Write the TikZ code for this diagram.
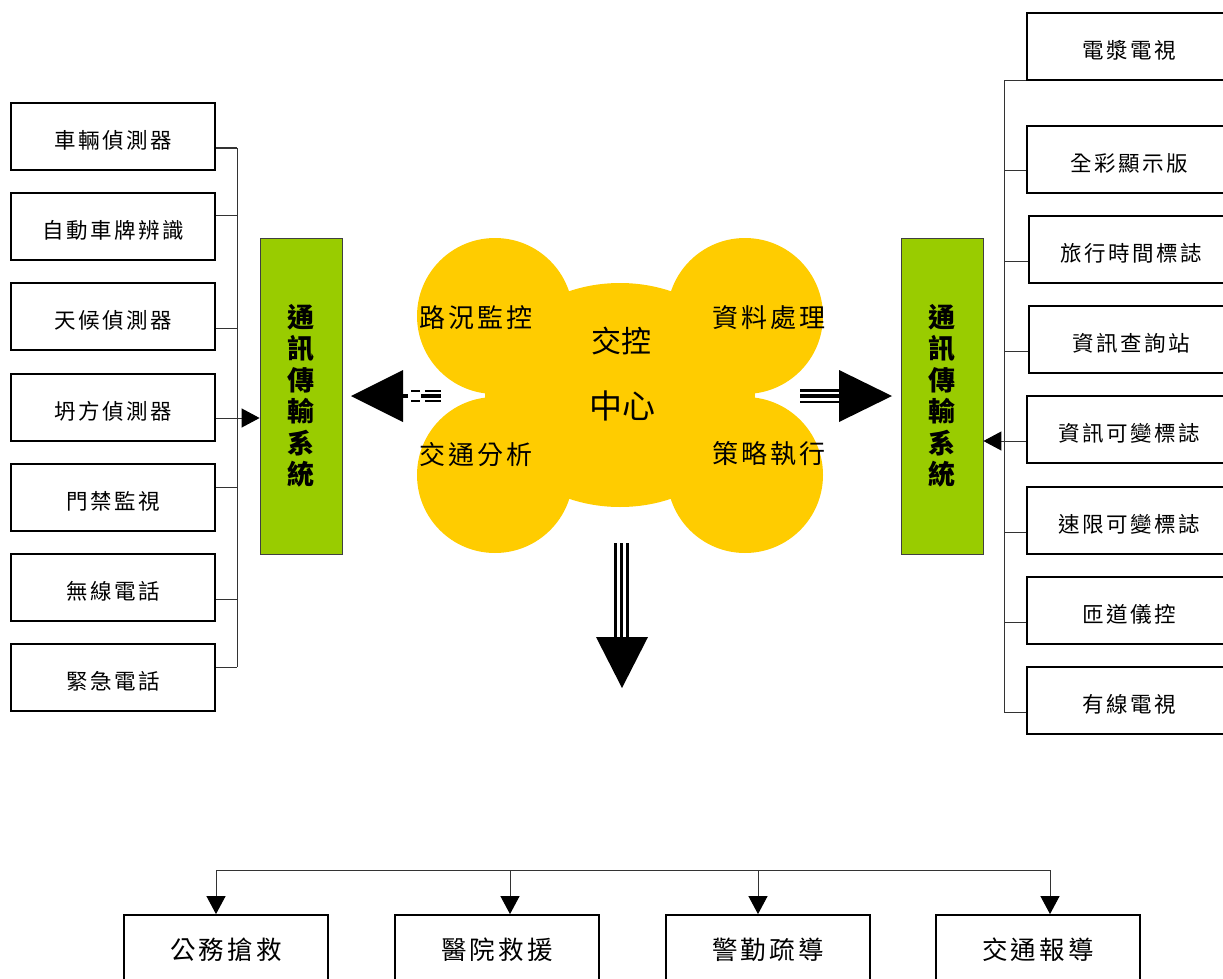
\documentclass[tikz,border=0pt]{standalone}
\usepackage{fontspec}
\usetikzlibrary{arrows.meta,calc}
\newfontfamily\cjk{Noto Sans CJK TC}
\newfontfamily\cjksp[LetterSpace=12]{Noto Sans CJK TC}
\definecolor{grn}{HTML}{99CC00}
\definecolor{amber}{HTML}{FFCC00}
\begin{document}
\begin{tikzpicture}[x=1pt,y=-1pt,
  itembox/.style={draw=black,line width=1.8pt,minimum width=204pt,minimum height=67pt,inner sep=0pt,
    text height=24.4pt,text depth=0pt,
    font=\cjksp\fontsize{21.5}{24}\selectfont},
  bigbox/.style={itembox,text height=22.4pt,font=\cjksp\fontsize{25.5}{28}\selectfont},
  commbox/.style={draw=black!75,line width=0.8pt,fill=grn,minimum width=82pt,minimum height=316pt,inner sep=0pt,
    align=center,font=\cjk\bfseries\fontsize{27}{31.5}\selectfont},
  tree/.style={draw=black!80,line width=1pt},
  petal/.style={font=\cjksp\fontsize{26}{28}\selectfont},
  tip/.style={-{Triangle[length=18pt,width=19pt,color=black]}}
]
\useasboundingbox (0,0) rectangle (1223,979);

% ---- left items
\node[itembox] (L1) at (113,136.5) {車輛偵測器};
\node[itembox] (L2) at (113,226.5) {自動車牌辨識};
\node[itembox] (L3) at (113,316.5) {天候偵測器};
\node[itembox] (L4) at (113,407.5) {坍方偵測器};
\node[itembox] (L5) at (113,497.5) {門禁監視};
\node[itembox] (L6) at (113,587.5) {無線電話};
\node[itembox] (L7) at (113,677.5) {緊急電話};

% ---- communication boxes
\node[commbox] (G1) at (301,396) {通\\訊\\傳\\輸\\系\\統};
\node[commbox] (G2) at (942,396) {通\\訊\\傳\\輸\\系\\統};

% ---- right items
\node[itembox] (R1) at (1129,46.5) {電漿電視};
\node[itembox] (R2) at (1129,159.5) {全彩顯示版};
\node[itembox] (R3) at (1131,249.5) {旅行時間標誌};
\node[itembox] (R4) at (1131,339.5) {資訊查詢站};
\node[itembox] (R5) at (1129,429.5) {資訊可變標誌};
\node[itembox] (R6) at (1129,520.5) {速限可變標誌};
\node[itembox] (R7) at (1129,610.5) {匝道儀控};
\node[itembox] (R8) at (1129,700.5) {有線電視};

% ---- bottom items
\node[bigbox] (B1) at (226,948.5) {公務搶救};
\node[bigbox] (B2) at (497,948.5) {醫院救援};
\node[bigbox] (B3) at (768,948.5) {警勤疏導};
\node[bigbox] (B4) at (1038,948.5) {交通報導};

% ---- left tree
\coordinate (lbus) at (237,0);
\coordinate (l1) at ([yshift=-11.5pt]L1.east);
\coordinate (l2) at ([yshift=11.5pt]L2.east);
\coordinate (l3) at ([yshift=-11.5pt]L3.east);
\coordinate (l4) at ([yshift=-10.5pt]L4.east);
\coordinate (l5) at ([yshift=10.5pt]L5.east);
\coordinate (l6) at ([yshift=-11.5pt]L6.east);
\coordinate (l7) at ([yshift=10.5pt]L7.east);
\draw[tree] (l1 -| lbus) -- (l7 -| lbus);
\foreach \c in {l1,l2,l3,l5,l6,l7} \draw[tree] (\c) -- (\c -| lbus);
\draw[tree,tip] (l4) -- (l4 -| G1.west);

% ---- right tree
\coordinate (rbus) at (1004,0);
\coordinate (r1) at (R1.south west);
\coordinate (r2) at ([yshift=-10.5pt]R2.west);
\coordinate (r3) at ([yshift=-11.5pt]R3.west);
\coordinate (r4) at ([yshift=-11.5pt]R4.west);
\coordinate (r5) at ([yshift=-11.5pt]R5.west);
\coordinate (r6) at ([yshift=-11.5pt]R6.west);
\coordinate (r7) at ([yshift=-11.5pt]R7.west);
\coordinate (r8) at ([yshift=-11.5pt]R8.west);
\draw[tree] (r1 -| rbus) -- (r8 -| rbus);
\foreach \c in {r1,r2,r3,r4,r6,r7,r8} \draw[tree] (\c) -- (\c -| rbus);
\draw[tree,tip] (r5) -- (r5 -| G2.east);

% ---- bottom tree
\coordinate (bbus) at (0,870);
\coordinate (b1) at ([xshift=-10pt]B1.north);
\coordinate (b2) at ([xshift=13pt]B2.north);
\coordinate (b3) at ([xshift=-10pt]B3.north);
\coordinate (b4) at ([xshift=12pt]B4.north);
\draw[tree] (b1 |- bbus) -- (b4 |- bbus);
\foreach \c in {b1,b2,b3,b4} \draw[tree,tip] (\c |- bbus) -- (\c);

% ---- control centre cloud
\fill[amber] (495,316) circle (78) (495,475) circle (78)
             (745,316) circle (78) (745,475) circle (78)
             (620,395) ellipse (135 and 112);
\node (cc) at (620,395) {};
\node[petal] (p1) at (476,318) {路況監控};
\node[petal] (p2) at (769,318) {資料處理};
\node[petal] (p3) at (476,455) {交通分析};
\node[petal] (p4) at (769,454) {策略執行};
\node[font=\cjk\fontsize{30}{32}\selectfont] (t1) at (621,341) {交控};
\node[font=\cjk\fontsize{33}{35}\selectfont] (t2) at (622,406) {中心};

% ---- block arrows
% to the left
\fill (403,370) -- (351,396) -- (403,422) -- cycle;
\draw[line width=2.5pt] (411,391) -- (420,391) (425,391) -- (441,391)
                        (411,401) -- (420,401) (425,401) -- (441,401);
\draw[line width=3.5pt] (402,396) -- (408,396) (421,396) -- (441,396);
% to the right
\draw[line width=2.5pt] (800,390.5) -- (841,390.5) (800,402) -- (841,402);
\draw[line width=3.5pt] (800,396.2) -- (841,396.2);
\fill (839,370) -- (892,396) -- (839,422) -- cycle;
% downwards
\draw[line width=2.5pt] (615.5,543) -- (615.5,638) (627.5,543) -- (627.5,638);
\draw[line width=3.8pt] (621.5,543) -- (621.5,638);
\fill (596,637) -- (648,637) -- (622,688) -- cycle;
\end{tikzpicture}
\end{document}
